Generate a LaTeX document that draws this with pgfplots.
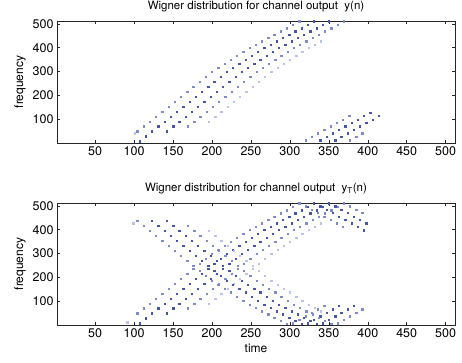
\documentclass[border=0pt]{standalone}
\usepackage{pgfplots}
\pgfplotsset{compat=1.18}
\usepackage{fontspec}
\setmainfont{TeX Gyre Heros}
\definecolor{cdark}{RGB}{70,85,170}
\definecolor{cmed}{RGB}{128,140,202}
\definecolor{cfaint}{RGB}{188,195,230}
\pgfplotsset{
  dk/.style={only marks, mark=square*, mark size=0.65pt, color=cdark, mark options={draw=none}},
  md/.style={only marks, mark=square*, mark size=0.65pt, color=cmed, mark options={draw=none}},
  ft/.style={only marks, mark=square*, mark size=0.65pt, color=cfaint, mark options={draw=none}},
  wig/.style={scale only axis, width=398pt, height=122pt,
    xmin=1, xmax=512, ymin=1, ymax=512,
    xtick={50,100,...,500}, ytick={100,200,...,500},
    tick align=inside, major tick length=3.5pt,
    axis line style={black!85, line width=0.5pt},
    tick style={black!85, line width=0.5pt},
    /pgf/number format/assume math mode=true,
    ticklabel style={font=\fontsize{12.5}{14}\selectfont},
    label style={font=\fontsize{12}{14}\selectfont},
    title style={font=\fontsize{11.5}{13}\selectfont, yshift=-1pt},
    ylabel={frequency},
    clip=true}
}
\begin{document}
\begin{tikzpicture}
\begin{axis}[wig, at={(0,182pt)}, anchor=south west,
  title={Wigner distribution for channel output\ \ y(n)}]
\addplot[md] coordinates {(104,50) (112,71) (120,91) (128,112) (136,133) (144,154) (152,175) (160,195) (168,216) (176,237) (184,258) (192,279) (200,299) (208,316) (216,333) (224,349) (232,366) (240,383) (248,400) (256,414) (264,428) (272,441) (280,455) (288,469) (296,482) (304,496) (312,511) (320,13) (328,27) (336,42) (344,56) (352,71) (360,85) (368,99) (376,114)};
\addplot[dk] coordinates {(107,8) (115,29) (123,50) (131,71) (139,91) (147,112) (155,133) (163,154) (171,175) (179,195) (187,216) (195,237) (203,258) (211,279) (219,299) (227,316) (235,333) (243,349) (251,366) (259,383) (267,400) (275,414) (283,428) (291,441) (299,455) (307,469) (315,482) (323,496) (331,511) (339,13) (347,27) (355,42) (363,56) (371,71) (379,85) (387,99) (395,114) (403,128)};
\addplot[dk] coordinates {(142,50) (150,71) (158,91) (166,112) (174,133) (182,154) (190,175) (198,195) (206,216) (214,237) (222,258) (230,279) (238,299) (246,316) (254,333) (262,349) (270,366) (278,383) (286,400) (294,414) (302,428) (310,441) (318,455) (326,469) (334,482) (342,496) (350,511) (358,13) (366,27) (374,42) (382,56) (390,71) (398,85) (406,99) (414,114)};
\addplot[md] coordinates {(169,71) (177,91) (185,112) (193,133) (201,154) (209,175) (217,195) (225,216) (233,237) (241,258) (249,279) (257,299) (265,316) (273,333) (281,349) (289,366) (297,383) (305,400) (313,414) (321,428) (329,441) (337,455) (345,469) (353,482) (361,496) (369,511) (377,13) (385,27) (393,42)};
\addplot[ft] coordinates {(101,42) (196,91) (204,112) (212,133) (220,154) (228,175) (236,195) (244,216) (252,237) (260,258) (268,279) (276,299) (284,316) (292,333) (300,349) (308,366) (316,383) (324,400) (332,414) (340,428)};
\end{axis}
\begin{axis}[wig, at={(0,0)}, anchor=south west,
  title={Wigner distribution for channel output\ \ y\textsubscript{T}(n)},
  xlabel={time}]
% upward band
\addplot[md] coordinates {(104,50) (112,71) (120,91) (128,112) (136,133) (144,154) (152,175) (160,195) (168,216) (176,237) (184,258) (192,279) (200,299) (208,316) (216,333) (224,349) (232,366) (240,383) (248,400) (256,414) (264,428) (272,441) (280,455) (288,469) (296,482) (304,496) (312,511) (320,499) (328,485) (336,470) (344,456) (352,441) (360,427) (368,413)};
\addplot[dk] coordinates {(107,8) (115,29) (123,50) (131,71) (139,91) (147,112) (155,133) (163,154) (171,175) (179,195) (187,216) (195,237) (203,258) (211,279) (219,299) (227,316) (235,333) (243,349) (251,366) (259,383) (267,400) (275,414) (283,428) (291,441) (299,455) (307,469) (315,482) (323,496) (331,511) (339,499) (347,485) (355,470) (363,456) (371,441) (379,427) (387,413) (395,398)};
\addplot[dk] coordinates {(142,50) (150,71) (158,91) (166,112) (174,133) (182,154) (190,175) (198,195) (206,216) (214,237) (222,258) (230,279) (238,299) (246,316) (254,333) (262,349) (270,366) (278,383) (286,400) (294,414) (302,428) (310,441) (318,455) (326,469) (334,482) (342,496) (350,511) (358,499) (366,485) (374,470) (382,456) (390,441) (398,427)};
\addplot[md] coordinates {(169,71) (177,91) (185,112) (193,133) (201,154) (209,175) (217,195) (225,216) (233,237) (241,258) (249,279) (257,299) (265,316) (273,333) (281,349) (289,366) (297,383) (305,400) (313,414) (321,428) (329,441) (337,455) (345,469) (353,482) (361,496) (369,511) (377,499) (385,485) (393,470)};
\addplot[ft] coordinates {(91,13) (196,91) (204,112) (212,133) (220,154) (228,175) (236,195) (244,216) (252,237) (260,258) (268,279) (276,299) (284,316) (292,333) (300,349) (308,366) (316,383) (324,400) (332,414) (340,428)};
% downward band
\addplot[md] coordinates {(104,437) (112,416) (120,396) (128,375) (136,354) (144,333) (152,312) (160,292) (168,271) (176,250) (184,229) (192,208) (200,188) (208,171) (216,154) (224,138) (232,121) (240,104) (248,87) (256,73) (264,59) (272,46) (280,32) (288,18) (296,5) (304,9) (312,24) (320,38) (328,52) (336,67) (344,81)};
\addplot[dk] coordinates {(123,437) (131,416) (139,396) (147,375) (155,354) (163,333) (171,312) (179,292) (187,271) (195,250) (203,229) (211,208) (219,188) (227,171) (235,154) (243,138) (251,121) (259,104) (267,87) (275,73) (283,59) (291,46) (299,32) (307,18) (315,5) (323,9) (331,24) (339,38) (347,52) (355,67) (363,81)};
\addplot[dk] coordinates {(142,437) (150,416) (158,396) (166,375) (174,354) (182,333) (190,312) (198,292) (206,271) (214,250) (222,229) (230,208) (238,188) (246,171) (254,154) (262,138) (270,121) (278,104) (286,87) (294,73) (302,59) (310,46) (318,32) (326,18) (334,5) (342,9) (350,24) (358,38) (366,52) (374,67) (382,81)};
\addplot[md] coordinates {(169,416) (177,396) (185,375) (193,354) (201,333) (209,312) (217,292) (225,271) (233,250) (241,229) (249,208) (257,188) (265,171) (273,154) (281,138) (289,121) (297,104) (305,87) (313,73) (321,59) (329,46) (337,32) (345,18) (353,5) (361,9) (369,24) (377,38) (385,52) (393,67)};
\addplot[ft] coordinates {(99,428) (196,396) (204,375) (212,354) (220,333) (228,312) (236,292) (244,271) (252,250) (260,229) (268,208) (276,188) (284,171) (292,154) (300,138) (308,121) (316,104) (324,87) (332,73) (340,59)};
\end{axis}
\pgfresetboundingbox
\useasboundingbox (-57pt,-37pt) rectangle (405pt,325pt);
\end{tikzpicture}
\end{document}
